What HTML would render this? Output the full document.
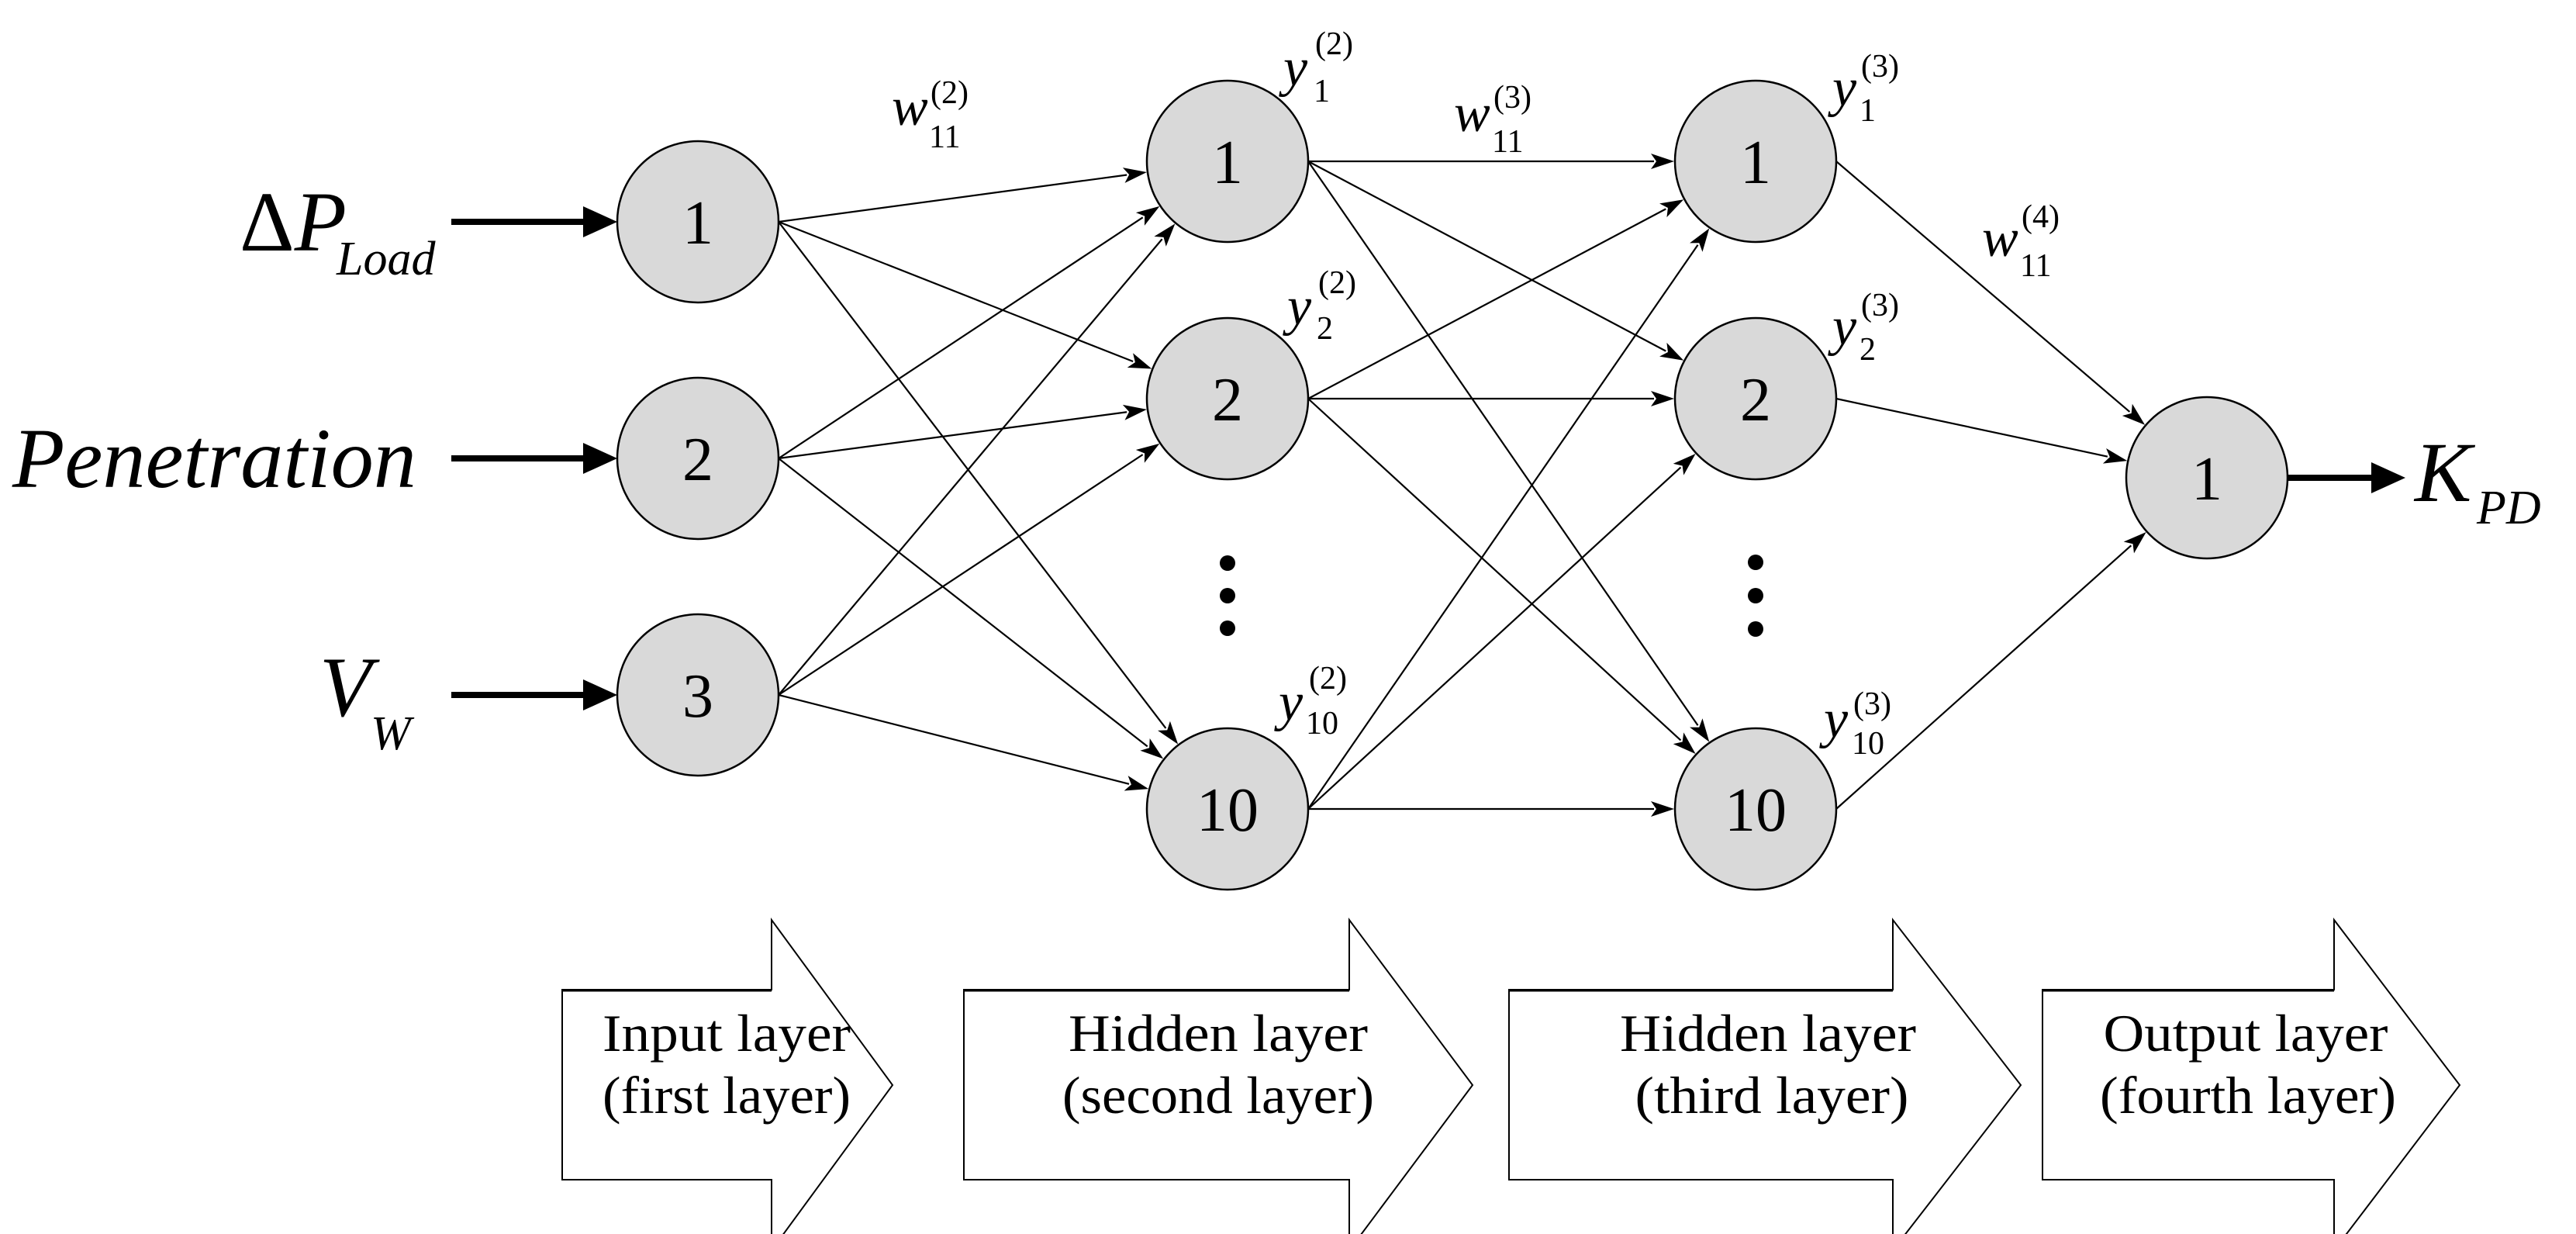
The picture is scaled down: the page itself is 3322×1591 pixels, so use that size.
<!DOCTYPE html>
<html><head><meta charset="utf-8"><style>
html,body{margin:0;padding:0;background:#fff;}
svg{display:block;}
svg text{font-family:"Liberation Serif","Times New Roman","DejaVu Serif",serif;}
</style></head><body>
<svg id="s" width="3322" height="1591" viewBox="0 0 3322 1591" xmlns="http://www.w3.org/2000/svg">
<g id="edges" stroke="#000" stroke-width="2.2" fill="none"></g>
<g id="heads" fill="#000"></g>
<g fill="#000" stroke="#000">
<line x1="582" y1="286" x2="760" y2="286" stroke-width="8"/><polygon points="752,266 796,286 752,306" stroke="none"/>
<line x1="582" y1="591" x2="760" y2="591" stroke-width="8"/><polygon points="752,571 796,591 752,611" stroke="none"/>
<line x1="582" y1="896" x2="760" y2="896" stroke-width="8"/><polygon points="752,876 796,896 752,916" stroke="none"/>
<line x1="2950" y1="616" x2="3065" y2="616" stroke-width="8"/><polygon points="3058,596 3102,616 3058,636" stroke="none"/>
</g>
<g fill="#d9d9d9" stroke="#000" stroke-width="2.5">
<circle cx="900" cy="286" r="104"/><circle cx="900" cy="591" r="104"/><circle cx="900" cy="896" r="104"/>
<circle cx="1583" cy="208" r="104"/><circle cx="1583" cy="514" r="104"/><circle cx="1583" cy="1043" r="104"/>
<circle cx="2264" cy="208" r="104"/><circle cx="2264" cy="514" r="104"/><circle cx="2264" cy="1043" r="104"/>
<circle cx="2846" cy="616" r="104"/>
</g>
<g fill="#000">
<circle cx="1583" cy="726" r="10"/><circle cx="1583" cy="768" r="10"/><circle cx="1583" cy="810" r="10"/>
<circle cx="2264" cy="725" r="10"/><circle cx="2264" cy="768" r="10"/><circle cx="2264" cy="811" r="10"/>
</g>
<g font-size="80" text-anchor="middle">
<text x="900" y="314">1</text><text x="900" y="619">2</text><text x="900" y="924">3</text>
<text x="1583" y="236">1</text><text x="1583" y="542">2</text><text x="1583" y="1071">10</text>
<text x="2264" y="236">1</text><text x="2264" y="542">2</text><text x="2264" y="1071">10</text>
<text x="2846" y="644">1</text>
</g>
<text x="309" y="323" font-size="110">Δ<tspan font-style="italic">P</tspan></text>
<text x="434" y="354" font-size="62" font-style="italic">Load</text>
<text x="16" y="628" font-size="110" font-style="italic" textLength="521" lengthAdjust="spacingAndGlyphs">Penetration</text>
<text x="412" y="923" font-size="110" font-style="italic">V</text>
<text x="478" y="966" font-size="62" font-style="italic">W</text>
<text x="3114" y="646" font-size="110" font-style="italic">K</text>
<text x="3194" y="675" font-size="62" font-style="italic">PD</text>
<g font-size="70" font-style="italic">
<text x="1150" y="161">w</text><text x="1875" y="169">w</text><text x="2556" y="330">w</text>
<text x="1655" y="110">y</text><text x="1660" y="418">y</text><text x="1649" y="928">y</text>
<text x="2363" y="136">y</text><text x="2363" y="444">y</text><text x="2352" y="950">y</text>
</g>
<g font-size="42">
<text x="1200" y="133">(2)</text><text x="1198" y="190">11</text>
<text x="1926" y="139">(3)</text><text x="1924" y="196">11</text>
<text x="2607" y="293">(4)</text><text x="2605" y="356">11</text>
<text x="1696" y="70">(2)</text><text x="1694" y="131">1</text>
<text x="1700" y="378">(2)</text><text x="1698" y="437">2</text>
<text x="1688" y="888">(2)</text><text x="1684" y="946">10</text>
<text x="2400" y="99">(3)</text><text x="2398" y="156">1</text>
<text x="2400" y="407">(3)</text><text x="2398" y="464">2</text>
<text x="2390" y="921">(3)</text><text x="2388" y="972">10</text>
</g>
<g fill="#fff" stroke="#000" stroke-width="2">
<polygon points="725,1276 995,1276 995,1186 1151,1399 995,1612 995,1521 725,1521"/>
<polygon points="1243,1276 1740,1276 1740,1186 1899,1399 1740,1612 1740,1521 1243,1521"/>
<polygon points="1946,1276 2441,1276 2441,1186 2606,1399 2441,1612 2441,1521 1946,1521"/>
<polygon points="2634,1276 3010,1276 3010,1186 3172,1399 3010,1612 3010,1521 2634,1521"/>
</g>
<g stroke="#000" stroke-width="3"><line x1="725" y1="1277" x2="995" y2="1277"/><line x1="1243" y1="1277" x2="1740" y2="1277"/><line x1="1946" y1="1277" x2="2441" y2="1277"/><line x1="2634" y1="1277" x2="3010" y2="1277"/></g>
<g font-size="68" text-anchor="middle">
<text x="937" y="1355" textLength="320" lengthAdjust="spacingAndGlyphs">Input layer</text>
<text x="937" y="1435" textLength="320" lengthAdjust="spacingAndGlyphs">(first layer)</text>
<text x="1571" y="1355" textLength="386" lengthAdjust="spacingAndGlyphs">Hidden layer</text>
<text x="1571" y="1435" textLength="402" lengthAdjust="spacingAndGlyphs">(second layer)</text>
<text x="2280" y="1355" textLength="382" lengthAdjust="spacingAndGlyphs">Hidden layer</text>
<text x="2285" y="1435" textLength="353" lengthAdjust="spacingAndGlyphs">(third layer)</text>
<text x="2896" y="1355" textLength="367" lengthAdjust="spacingAndGlyphs">Output layer</text>
<text x="2899" y="1435" textLength="382" lengthAdjust="spacingAndGlyphs">(fourth layer)</text>
</g>
</svg>
<script>
(function(){
var r=104,ns="http://www.w3.org/2000/svg";
var L1=[[900,286],[900,591],[900,896]],L2=[[1583,208],[1583,514],[1583,1043]],L3=[[2264,208],[2264,514],[2264,1043]],O=[[2846,616]];
var E=document.getElementById('edges'),H=document.getElementById('heads');
function conn(A,B){A.forEach(function(a){B.forEach(function(b){
var sx=a[0]+r,sy=a[1];var dx=sx-b[0],dy=sy-b[1],d=Math.sqrt(dx*dx+dy*dy);
var ex=b[0]+dx/d*(r+1),ey=b[1]+dy/d*(r+1);
var ux=(ex-sx),uy=(ey-sy),l=Math.sqrt(ux*ux+uy*uy);ux/=l;uy/=l;
var bx=ex-ux*30,by=ey-uy*30,px=-uy*10,py=ux*10;
var ln=document.createElementNS(ns,'line');ln.setAttribute('x1',sx);ln.setAttribute('y1',sy);ln.setAttribute('x2',bx+ux*4);ln.setAttribute('y2',by+uy*4);E.appendChild(ln);
var p=document.createElementNS(ns,'polygon');p.setAttribute('points',ex+','+ey+' '+(bx+px)+','+(by+py)+' '+(bx+ux*7)+','+(by+uy*7)+' '+(bx-px)+','+(by-py));H.appendChild(p);
});});}
conn(L1,L2);conn(L2,L3);conn(L3,O);
})();
</script>
</body></html>
